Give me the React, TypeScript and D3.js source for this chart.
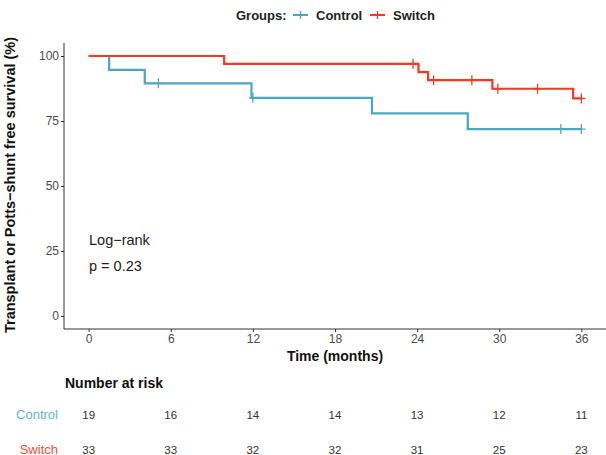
import React, { useEffect, useRef } from 'react'
import * as d3 from 'd3'

// step changes: time (months) and survival (%) after the step
const controlTimes = [0, 1.5, 4.1, 11.9, 20.7, 27.7]
const controlSurv = [100, 94.7, 89.5, 83.9, 77.9, 71.9]
const controlCensor = [5.1, 12.0, 34.5, 36.0]

const switchTimes = [0, 9.9, 24.1, 24.8, 29.5, 35.4]
const switchSurv = [100, 97.0, 93.8, 90.7, 87.4, 83.7]
const switchCensor = [23.7, 25.2, 28.0, 29.9, 32.8, 36.0]

const riskTimes = [0, 6, 12, 18, 24, 30, 36]
const controlRisk = [19, 16, 14, 14, 13, 12, 11]
const switchRisk = [33, 33, 32, 32, 31, 25, 23]

const groups = ['Control', 'Switch']
const colors = ['#4ba6c0', '#f8371f']
const labelColors = ['#5fb6cf', '#fa4a35']

const App = () => {
  const svgRef = useRef<SVGSVGElement>(null)

  useEffect(() => {
    const width = 606
    const height = 455
    const font = 'Liberation Sans, Arial, sans-serif'
    const svg = d3.select(svgRef.current)
    svg.selectAll('*').remove()
    svg.attr('width', width).attr('height', height)
      .style('font-family', font)

    const x = d3.scaleLinear([-1.8, 37.8], [64, 606])
    const y = d3.scaleLinear([-5, 105], [329, 43])

    // y axis
    svg.append('g')
      .attr('transform', 'translate(64,0)')
      .call(d3.axisLeft(y).tickValues([0, 25, 50, 75, 100]).tickSize(3).tickSizeOuter(0).tickPadding(2))
      .call(g => g.select('.domain').attr('stroke', '#333').attr('d', `M0,${y(105)}V${y(-5)}`))
      .call(g => g.selectAll('.tick line').attr('stroke', '#333'))
      .call(g => g.selectAll('.tick text').attr('fill', '#4d4d4d').style('font-size', '12px').style('font-family', font))

    // x axis
    svg.append('g')
      .attr('transform', 'translate(0,329)')
      .call(d3.axisBottom(x).tickValues(riskTimes).tickSize(3).tickSizeOuter(0).tickPadding(2))
      .call(g => g.select('.domain').attr('stroke', '#333').attr('d', `M64,0H606`))
      .call(g => g.selectAll('.tick line').attr('stroke', '#333'))
      .call(g => g.selectAll('.tick text').attr('fill', '#4d4d4d').style('font-size', '12px').style('font-family', font))

    svg.append('text')
      .attr('x', 335).attr('y', 361)
      .attr('text-anchor', 'middle')
      .style('font-size', '14px').style('font-weight', 'bold').attr('fill', '#111')
      .text('Time (months)')

    svg.append('text')
      .attr('transform', `translate(15,185) rotate(-90)`)
      .attr('text-anchor', 'middle')
      .style('font-size', '14.5px').style('font-weight', 'bold').attr('fill', '#111')
      .text('Transplant or Potts\u2212shunt free survival (%)')

    const line = d3.line<[number, number]>()
      .x(d => x(d[0]))
      .y(d => y(d[1]))
      .curve(d3.curveStepAfter)

    const series = [
      { times: controlTimes, surv: controlSurv, censor: controlCensor },
      { times: switchTimes, surv: switchSurv, censor: switchCensor },
    ]

    series.forEach((s, i) => {
      const pts: [number, number][] = s.times.map((t, j) => [t, s.surv[j]])
      pts.push([36, s.surv[s.surv.length - 1]])
      svg.append('path')
        .attr('fill', 'none')
        .attr('stroke', colors[i])
        .attr('stroke-width', 2.2)
        .attr('d', line(pts))
      const survAt = (t: number) => {
        let v = s.surv[0]
        s.times.forEach((tt, j) => { if (tt <= t) v = s.surv[j] })
        return v
      }
      svg.append('g').selectAll('path')
        .data(s.censor)
        .join('path')
        .attr('fill', 'none')
        .attr('stroke', colors[i])
        .attr('stroke-width', 1.3)
        .attr('d', t => {
          const cx = x(t), cy = y(survAt(t))
          return `M${cx - 4},${cy}H${cx + 4}M${cx},${cy - 5}V${cy + 5}`
        })
    })

    // log-rank
    svg.append('text').attr('x', 89).attr('y', 245)
      .style('font-size', '14.5px').attr('fill', '#222').text('Log\u2212rank')
    svg.append('text').attr('x', 89).attr('y', 271)
      .style('font-size', '14.5px').attr('fill', '#222').text('p = 0.23')

    // legend
    const lg = svg.append('g').attr('transform', 'translate(0,20)')
    lg.append('text').attr('x', 236).attr('y', 0)
      .style('font-size', '13px').style('font-weight', 'bold').attr('fill', '#222')
      .text('Groups:')
    const legX = [293, 370]
    groups.forEach((g, i) => {
      const lx = legX[i]
      lg.append('path')
        .attr('stroke', colors[i]).attr('stroke-width', 2)
        .attr('d', `M${lx},-5H${lx + 15}`)
      lg.append('path')
        .attr('stroke', colors[i]).attr('stroke-width', 1.3)
        .attr('d', `M${lx + 7.5},-9V-1`)
      lg.append('text').attr('x', lx + 23).attr('y', 0)
        .style('font-size', '13px').style('font-weight', 'bold').attr('fill', '#222')
        .text(g)
    })

    // risk table
    svg.append('text').attr('x', 65).attr('y', 388)
      .style('font-size', '14px').style('font-weight', 'bold').attr('fill', '#111')
      .text('Number at risk')
    const rows = [controlRisk, switchRisk]
    const rowY = [418.5, 453.5]
    rows.forEach((r, i) => {
      svg.append('text').attr('x', 58).attr('y', rowY[i])
        .attr('text-anchor', 'end')
        .style('font-size', '13px').attr('fill', labelColors[i])
        .text(groups[i])
      svg.append('g').selectAll('text')
        .data(r)
        .join('text')
        .attr('x', (d, j) => x(riskTimes[j]))
        .attr('y', rowY[i])
        .attr('text-anchor', 'middle')
        .style('font-size', '11.5px').attr('fill', '#333')
        .text(d => d)
    })
  }, [])

  return <svg ref={svgRef} style={{ position: 'absolute', left: 0, top: 0 }} />
}

export default App
